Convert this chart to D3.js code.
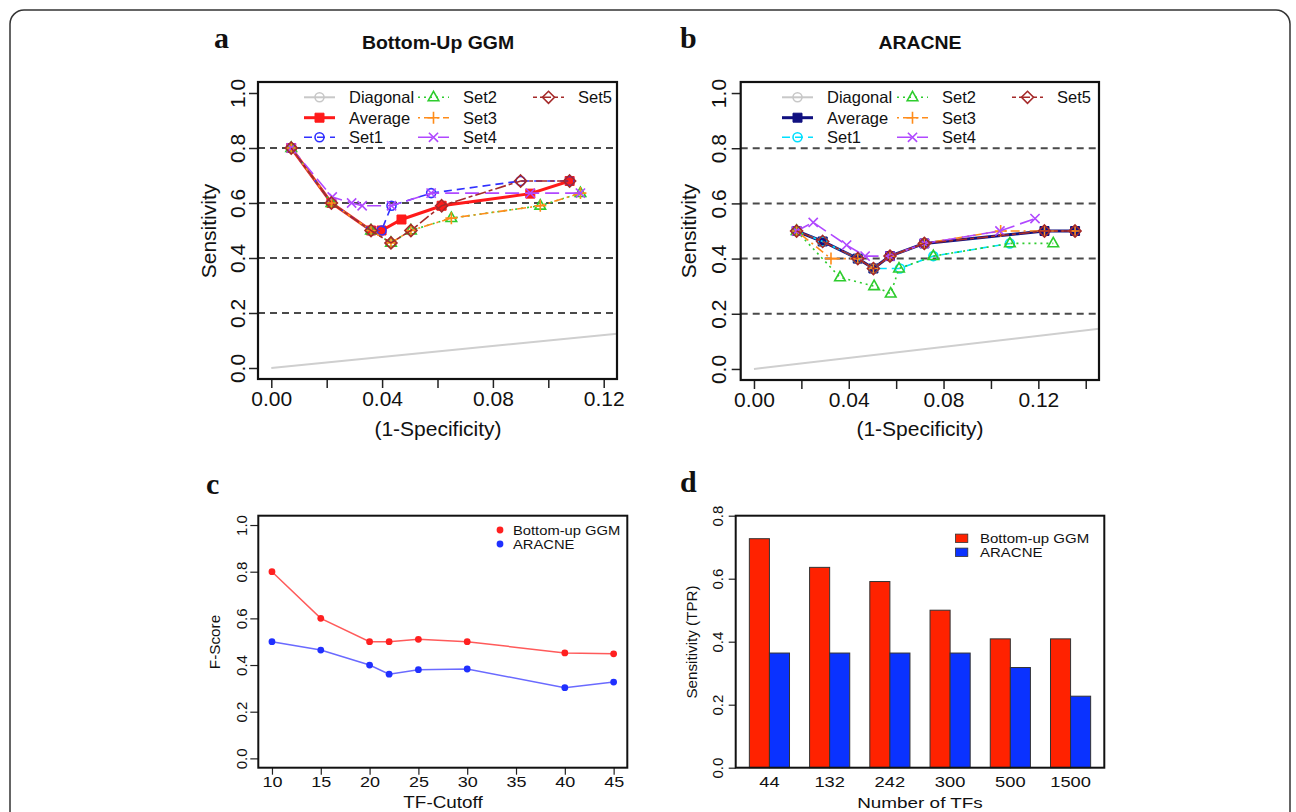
<!DOCTYPE html>
<html><head><meta charset="utf-8">
<script src="https://cdn.jsdelivr.net/npm/d3@7"></script>
<style>body{margin:0;background:#fff} text{font-family:"Liberation Sans",Arial,sans-serif;fill:#111}</style>
</head><body><script>
// ---------------- data ----------------
const rocTicks = [0, 0.02, 0.04, 0.06, 0.08, 0.10, 0.12, 0.14];
const probTicks = [0, 0.2, 0.4, 0.6, 0.8, 1.0];
const refLines = [0.2, 0.4, 0.6, 0.8];
const legendNames = ["Diagonal", "Average", "Set1", "Set2", "Set3", "Set4", "Set5"];
const diagonal = [[0, 0], [1, 1]];

const ggmAverage = [[0.0072,0.8],[0.0217,0.6],[0.036,0.5],[0.0398,0.5],[0.047,0.54],[0.0615,0.59],[0.0935,0.634],[0.1077,0.68]];
const ggmSet1 = [[0.0072,0.8],[0.0217,0.6],[0.036,0.5],[0.0398,0.5],[0.0434,0.59],[0.0577,0.636],[0.090,0.68],[0.1077,0.68]];
const ggmSet2 = [[0.0072,0.8],[0.0217,0.6],[0.036,0.5],[0.0432,0.455],[0.0504,0.5],[0.065,0.545],[0.0971,0.59],[0.1116,0.636]];
const ggmSet3 = [[0.0072,0.8],[0.0217,0.6],[0.036,0.5],[0.0432,0.455],[0.0504,0.5],[0.065,0.545],[0.0971,0.59],[0.1116,0.636]];
const ggmSet4 = [[0.0072,0.8],[0.022,0.622],[0.029,0.6],[0.0328,0.59],[0.0434,0.59],[0.0577,0.636],[0.0935,0.636],[0.1116,0.636]];
const ggmSet5 = [[0.0072,0.8],[0.0217,0.6],[0.036,0.5],[0.0432,0.455],[0.0504,0.5],[0.0615,0.59],[0.090,0.68],[0.1077,0.68]];

const araAverage = [[0.018,0.5],[0.029,0.462],[0.0438,0.4],[0.0504,0.364],[0.0574,0.409],[0.0719,0.455],[0.1226,0.5],[0.1355,0.5]];
const araSet1 = [[0.018,0.5],[0.029,0.462],[0.0438,0.4],[0.0504,0.364],[0.0616,0.364],[0.0757,0.409],[0.108,0.455]];
const araSet2 = [[0.018,0.5],[0.0363,0.332],[0.0507,0.3],[0.0577,0.273],[0.0612,0.364],[0.0757,0.409],[0.108,0.455],[0.1263,0.455]];
const araSet3 = [[0.018,0.5],[0.0325,0.4],[0.0438,0.4],[0.0504,0.364],[0.0574,0.409],[0.0719,0.455],[0.1041,0.5],[0.1226,0.5],[0.1355,0.5]];
const araSet4 = [[0.018,0.5],[0.025,0.531],[0.0391,0.449],[0.0469,0.409],[0.0574,0.409],[0.0719,0.455],[0.1038,0.5],[0.1186,0.545]];
const araSet5 = [[0.018,0.5],[0.029,0.462],[0.0438,0.4],[0.0504,0.364],[0.0574,0.409],[0.0719,0.455],[0.1226,0.5],[0.1355,0.5]];

const cutoffs = [10, 15, 20, 22, 25, 30, 40, 45];
const cutoffTicks = [10, 15, 20, 25, 30, 35, 40, 45];
const fScoreGGM = [0.8, 0.6, 0.5, 0.5, 0.51, 0.5, 0.452, 0.448];
const fScoreARACNE = [0.5, 0.464, 0.4, 0.361, 0.38, 0.383, 0.303, 0.327];

const tfCounts = ["44", "132", "242", "300", "500", "1500"];
const tprGGM = [0.727, 0.636, 0.591, 0.5, 0.409, 0.409];
const tprARACNE = [0.364, 0.364, 0.364, 0.364, 0.318, 0.227];
const tprTicks = [0, 0.2, 0.4, 0.6, 0.8];
const methodNames = ["Bottom-up GGM", "ARACNE"];

// ---------------- helpers ----------------
const svg = d3.select("body").append("svg").attr("width", 1296).attr("height", 812);
svg.append("rect").attr("x", 10).attr("y", 10).attr("width", 1280).attr("height", 900)
  .attr("rx", 14).attr("fill", "none").attr("stroke", "#333").attr("stroke-width", 1.5);

function txt(g, x, y, s, o = {}) {
  const t = g.append("text")
    .attr("transform", `translate(${x},${y}) rotate(${o.rot || 0}) scale(${o.sx || 1},1)`)
    .attr("text-anchor", o.anchor || "middle")
    .attr("font-size", o.size || 16)
    .attr("font-weight", o.weight || "normal")
    .text(s);
  if (o.family) t.style("font-family", o.family);
  return t;
}

const markerPaths = {
  circle: "M4.5,0A4.5,4.5 0 1,1 -4.5,0A4.5,4.5 0 1,1 4.5,0Z",
  square: "M-4.5,-4.5H4.5V4.5H-4.5Z",
  triangle: "M0,-6L5.3,3.4L-5.3,3.4Z",
  plus: "M-6,0H6M0,-6V6",
  cross: "M-4.6,-4.6L4.6,4.6M-4.6,4.6L4.6,-4.6",
  diamond: "M0,-6L6,0L0,6L-6,0Z"
};
function marker(g, type, x, y, color) {
  const filled = type === "square";
  g.append("path").attr("d", markerPaths[type])
    .attr("transform", `translate(${x},${y})`)
    .attr("fill", filled ? color : "none")
    .attr("stroke", color).attr("stroke-width", filled ? 1 : 1.6);
}

// ---------------- ROC panels ----------------
function rocPanel(cfg) {
  const g = svg.append("g");
  const x = d3.scaleLinear().domain(cfg.xdom).range([cfg.x0, cfg.x1]);
  const y = d3.scaleLinear().domain([-0.04, 1.04]).range([cfg.y1, cfg.y0]);
  const clipId = "clip" + cfg.letter;
  g.append("clipPath").attr("id", clipId).append("rect")
    .attr("x", cfg.x0).attr("y", cfg.y0).attr("width", cfg.x1 - cfg.x0).attr("height", cfg.y1 - cfg.y0);

  g.selectAll(".ref").data(refLines).enter().append("line")
    .attr("x1", cfg.x0).attr("x2", cfg.x1).attr("y1", d => y(d)).attr("y2", d => y(d))
    .attr("stroke", "#4a4a4a").attr("stroke-width", 2).attr("stroke-dasharray", "7,5");

  const line = d3.line().x(d => x(d[0])).y(d => y(d[1]));
  const plot = g.append("g").attr("clip-path", `url(#${clipId})`);
  plot.append("path").attr("d", line(diagonal)).attr("fill", "none").attr("stroke", "#cfcfcf").attr("stroke-width", 2);

  cfg.series.forEach(s => {
    plot.append("path").attr("d", line(s.data)).attr("fill", "none")
      .attr("stroke", s.color).attr("stroke-width", s.width).attr("stroke-dasharray", s.dash || null);
    s.data.forEach(d => marker(plot, s.marker, x(d[0]), y(d[1]), s.color));
  });

  const xa = g.append("g").attr("transform", `translate(0,${cfg.y1})`)
    .call(d3.axisBottom(x).tickValues(cfg.xticks).tickSize(9).tickPadding(3)
      .tickFormat((d, i) => i % 2 === 0 ? d3.format(".2f")(d) : ""));
  xa.select(".domain").remove();
  xa.selectAll("line").attr("stroke", "#222").attr("stroke-width", 1.5);
  xa.selectAll("text").attr("font-size", 21).attr("fill", "#111").style("font-family", "'Liberation Sans',Arial,sans-serif");

  const ya = g.append("g").attr("transform", `translate(${cfg.x0},0)`)
    .call(d3.axisLeft(y).tickValues(probTicks).tickSize(9).tickFormat(d3.format(".1f")));
  ya.select(".domain").remove();
  ya.selectAll("line").attr("stroke", "#222").attr("stroke-width", 1.5);
  ya.selectAll("text").attr("x", 0).attr("dy", null).attr("text-anchor", "middle")
    .attr("transform", `translate(${cfg.ylabOff},0) rotate(-90)`)
    .attr("font-size", 21).attr("fill", "#111").style("font-family", "'Liberation Sans',Arial,sans-serif");

  g.append("rect").attr("x", cfg.x0).attr("y", cfg.y0).attr("width", cfg.x1 - cfg.x0).attr("height", cfg.y1 - cfg.y0)
    .attr("fill", "none").attr("stroke", "#111").attr("stroke-width", 2.2);

  txt(g, cfg.titleX, 49, cfg.title, { size: 18, weight: "bold", sx: 1.08 });
  txt(g, cfg.letterX, 48, cfg.letter, { size: 30, weight: "bold", anchor: "start", family: "'Liberation Serif',serif" });
  txt(g, cfg.titleX, 436, "(1-Specificity)", { size: 21 });
  txt(g, cfg.ytitleX, 231, "Sensitivity", { size: 21, rot: -90 });

  const rows = [97.3, 117.7, 137.3];
  const all = [{ name: "Diagonal", color: "#c8c8c8", width: 2, marker: "circle" }].concat(cfg.series);
  all.forEach((s, i) => {
    const col = i < 3 ? 0 : (i < 6 ? 1 : 2);
    const row = i < 3 ? i : (i < 6 ? i - 3 : 0);
    const lx = cfg.legCols[col], ly = rows[row];
    g.append("line").attr("x1", lx).attr("x2", lx + 31).attr("y1", ly).attr("y2", ly)
      .attr("stroke", s.color).attr("stroke-width", s.width).attr("stroke-dasharray", s.dash || null);
    marker(g, s.marker, lx + 15.5, ly, s.color);
    txt(g, lx + 45, ly + 6, legendNames[i], { size: 16.5, anchor: "start" });
  });
}

const setStyles = [
  { dash: "8,5", marker: "circle" },
  { dash: "2,4", marker: "triangle", color: "#2ecc2e" },
  { dash: "2,4,9,4", marker: "plus", color: "#ff8c1a" },
  { dash: "14,6", marker: "cross", color: "#b048ff" },
  { dash: "4,3,11,3", marker: "diamond", color: "#a52a2a" }
];

rocPanel({
  letter: "a", letterX: 214, title: "Bottom-Up GGM", titleX: 438,
  x0: 258, x1: 617, y0: 82, y1: 379, xdom: [-0.0048, 0.1248], xticks: rocTicks.slice(0, 7),
  ylabOff: -12.8, ytitleX: 216, legCols: [304, 418, 533],
  series: [
    { data: ggmAverage, color: "#ff1a1a", width: 3, marker: "square" },
    { data: ggmSet1, color: "#3030ff", width: 1.6, dash: setStyles[0].dash, marker: "circle" },
    { data: ggmSet2, color: setStyles[1].color, width: 1.6, dash: setStyles[1].dash, marker: "triangle" },
    { data: ggmSet3, color: setStyles[2].color, width: 1.6, dash: setStyles[2].dash, marker: "plus" },
    { data: ggmSet4, color: setStyles[3].color, width: 1.6, dash: setStyles[3].dash, marker: "cross" },
    { data: ggmSet5, color: setStyles[4].color, width: 1.6, dash: setStyles[4].dash, marker: "diamond" }
  ]
});

rocPanel({
  letter: "b", letterX: 680, title: "ARACNE", titleX: 920,
  x0: 740.7, x1: 1099, y0: 82, y1: 380, xdom: [-0.0056, 0.1456], xticks: rocTicks,
  ylabOff: -14.9, ytitleX: 696, legCols: [782, 897, 1012],
  series: [
    { data: araAverage, color: "#101080", width: 3, marker: "square" },
    { data: araSet1, color: "#00e0ff", width: 1.6, dash: setStyles[0].dash, marker: "circle" },
    { data: araSet2, color: setStyles[1].color, width: 1.6, dash: setStyles[1].dash, marker: "triangle" },
    { data: araSet3, color: setStyles[2].color, width: 1.6, dash: setStyles[2].dash, marker: "plus" },
    { data: araSet4, color: setStyles[3].color, width: 1.6, dash: setStyles[3].dash, marker: "cross" },
    { data: araSet5, color: setStyles[4].color, width: 1.6, dash: setStyles[4].dash, marker: "diamond" }
  ]
});

// ---------------- panel c ----------------
(function () {
  const g = svg.append("g");
  const x0 = 258.3, x1 = 627.3, y0 = 515.7, y1 = 767.7;
  const x = d3.scaleLinear().domain([8.6, 46.4]).range([x0, x1]);
  const y = d3.scaleLinear().domain([-0.04, 1.04]).range([y1, y0]);
  const SX = 1.2;
  const series = [
    { vals: fScoreGGM, line: "#ff5a5a", pt: "#ff2020" },
    { vals: fScoreARACNE, line: "#6a6aff", pt: "#2030ff" }
  ];
  series.forEach(s => {
    const pts = cutoffs.map((c, i) => [c, s.vals[i]]);
    g.append("path").attr("d", d3.line().x(d => x(d[0])).y(d => y(d[1]))(pts))
      .attr("fill", "none").attr("stroke", s.line).attr("stroke-width", 1.5);
    g.selectAll(null).data(pts).enter().append("circle")
      .attr("cx", d => x(d[0])).attr("cy", d => y(d[1])).attr("r", 3.4).attr("fill", s.pt);
  });
  const xa = g.append("g").attr("transform", `translate(0,${y1})`)
    .call(d3.axisBottom(x).tickValues(cutoffTicks).tickSize(7).tickPadding(2));
  xa.select(".domain").remove();
  xa.selectAll("line").attr("stroke", "#222").attr("stroke-width", 1.2);
  xa.selectAll("text").attr("font-size", 15).attr("fill", "#111").attr("transform", `scale(${SX},1)`);
  const ya = g.append("g").attr("transform", `translate(${x0},0)`)
    .call(d3.axisLeft(y).tickValues(probTicks).tickSize(8).tickFormat(d3.format(".1f")));
  ya.select(".domain").remove();
  ya.selectAll("line").attr("stroke", "#222").attr("stroke-width", 1.2);
  ya.selectAll("text").attr("x", 0).attr("dy", null).attr("text-anchor", "middle")
    .attr("transform", "translate(-11.2,0) rotate(-90)").attr("font-size", 15).attr("fill", "#111");
  g.append("rect").attr("x", x0).attr("y", y0).attr("width", x1 - x0).attr("height", y1 - y0)
    .attr("fill", "none").attr("stroke", "#111").attr("stroke-width", 2);
  txt(g, 206, 494, "c", { size: 30, weight: "bold", anchor: "start", family: "'Liberation Serif',serif" });
  txt(g, 443, 808, "TF-Cutoff", { size: 16, sx: 1.18 });
  txt(g, 219.5, 642, "F-Score", { size: 15.3, rot: -90 });
  series.forEach((s, i) => {
    const ly = 530 + i * 14;
    g.append("circle").attr("cx", 500).attr("cy", ly).attr("r", 3.4).attr("fill", s.pt);
    txt(g, 513, ly + 4.5, methodNames[i], { size: 12.5, sx: 1.18, anchor: "start" });
  });
})();

// ---------------- panel d ----------------
(function () {
  const g = svg.append("g");
  const x0 = 735.7, x1 = 1104.3, y0 = 515.7, y1 = 767.7;
  const SX = 1.22;
  const xb = d3.scaleBand().domain(tfCounts).range([x0, x1]).paddingInner(1 / 3).paddingOuter(0.2267);
  const xs = d3.scaleBand().domain([0, 1]).range([0, xb.bandwidth()]);
  const y = d3.scaleLinear().domain([0, 0.8]).range([y1, y0]);
  const colors = ["#ff2200", "#0a32ff"];
  [tprGGM, tprARACNE].forEach((vals, k) => {
    g.selectAll(null).data(tfCounts).enter().append("rect")
      .attr("x", d => xb(d) + xs(k)).attr("width", xs.bandwidth())
      .attr("y", (d, i) => y(vals[i])).attr("height", (d, i) => y1 - y(vals[i]))
      .attr("fill", colors[k]).attr("stroke", "#333").attr("stroke-width", 1);
  });
  const xa = g.append("g").attr("transform", `translate(0,${y1})`)
    .call(d3.axisBottom(xb).tickSize(0).tickPadding(9));
  xa.select(".domain").remove();
  xa.selectAll("text").attr("font-size", 15).attr("fill", "#111").attr("transform", `scale(${SX},1)`);
  const ya = g.append("g").attr("transform", `translate(${x0},0)`)
    .call(d3.axisLeft(y).tickValues(tprTicks).tickSize(7).tickFormat(d3.format(".1f")));
  ya.select(".domain").remove();
  ya.selectAll("line").attr("stroke", "#222").attr("stroke-width", 1.2);
  ya.selectAll("text").attr("x", 0).attr("dy", null).attr("text-anchor", "middle")
    .attr("transform", "translate(-13,0) rotate(-90)").attr("font-size", 15).attr("fill", "#111");
  g.append("rect").attr("x", x0).attr("y", y0).attr("width", x1 - x0).attr("height", y1 - y0)
    .attr("fill", "none").attr("stroke", "#111").attr("stroke-width", 2);
  txt(g, 680, 492, "d", { size: 30, weight: "bold", anchor: "start", family: "'Liberation Serif',serif" });
  txt(g, 920, 808, "Number of TFs", { size: 15.5, sx: 1.22 });
  txt(g, 697, 642, "Sensitivity (TPR)", { size: 15.2, rot: -90 });
  colors.forEach((c, i) => {
    const ly = 538.3 + i * 14;
    g.append("rect").attr("x", 955.5).attr("y", ly - 4.2).attr("width", 12.3).attr("height", 8.4)
      .attr("fill", c).attr("stroke", "#333").attr("stroke-width", 0.8);
    txt(g, 980, ly + 4.5, methodNames[i], { size: 12.5, sx: 1.2, anchor: "start" });
  });
})();
</script></body></html>
